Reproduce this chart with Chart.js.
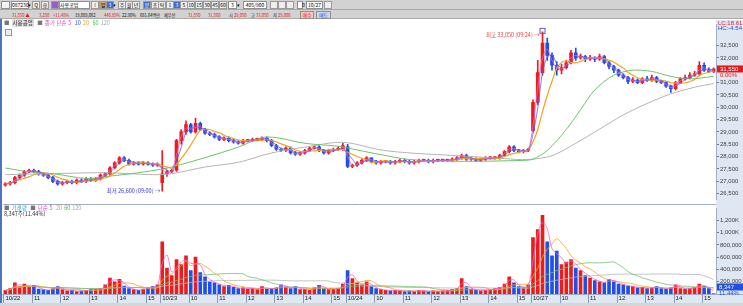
<!DOCTYPE html>
<html lang="ko">
<head>
<meta charset="utf-8">
<script src="https://cdn.jsdelivr.net/npm/chart.js@4.4.1/dist/chart.umd.min.js"></script>
<style>
body { margin: 0; width: 743px; height: 306px; overflow: hidden; background: #fff; font-family: "Noto Sans CJK KR", "Liberation Sans", sans-serif; position: relative; }
.row1 { position: absolute; left: 0; top: 0; width: 743px; height: 9px; background: #d2d2d2; border-bottom: 1px solid #a9a9a9; }
.row2 { position: absolute; left: 0; top: 10px; width: 743px; height: 8px; background: #d2d2d2; border-bottom: 1px solid #a9a9a9; }
.t { position: absolute; font-size: 5px; line-height: 7px; white-space: nowrap; color: #111; }
.row2 .t { transform: scaleX(0.82); transform-origin: left center; }
.box { position: absolute; top: 1px; height: 6px; background: #fff; border: 1px solid #8f8f8f; font-size: 5px; line-height: 6px; text-align: center; white-space: nowrap; }
.btn { position: absolute; top: 1px; height: 6px; width: 6px; background: #eee; border: 1px solid #9a9a9a; font-size: 5px; line-height: 6px; text-align: center; }
.on { background: #3d6fd6; color: #fff; }
.red { color: #e8171b; }
.blue { color: #2149d8; }
canvas { position: absolute; left: 0; }
#priceChart { top: 20px; }
#volumeChart { top: 204px; }
.legend { position: absolute; font-size: 5.5px; line-height: 7px; white-space: nowrap; color: #333; }
.legend span { margin-right: 2px; }
.strip { position: absolute; left: 0; top: 19px; width: 2px; height: 284px; background: #4d74c0; }
.foot { position: absolute; left: 0; top: 303px; width: 743px; height: 3px; background: #d6d6d6; }
</style>
</head>
<body>
<div class="row1">
  <div class="box" style="left:1px;width:7px;background:#f3f3f3"></div>
  <div class="box" style="left:11px;width:16px">087230</div>
  <div class="t" style="left:28px;top:1px">▾</div>
  <div class="btn" style="left:32px">Q</div>
  <div class="btn" style="left:41px">⊕</div>
  <div class="btn" style="left:51px;background:#9c5bd3"></div>
  <div class="box" style="left:59px;width:29px;text-align:left">사용공업</div>
  <div class="btn" style="left:91px">!</div>
  <div class="btn" style="left:99px;background:#c9a46e">일</div>
  <div class="btn on" style="left:106px">3</div>
  <div class="t" style="left:113px;top:1px">▾</div>
  <div class="btn" style="left:118px">주</div>
  <div class="btn" style="left:125px">월</div>
  <div class="btn" style="left:132px">년</div>
  <div class="btn on" style="left:143px">분</div>
  <div class="btn" style="left:151px">초</div>
  <div class="btn" style="left:158px">틱</div>
  <div class="btn" style="left:166px">1</div>
  <div class="btn on" style="left:173px">3</div>
  <div class="btn" style="left:180px">5</div>
  <div class="btn" style="left:187px">10</div>
  <div class="btn" style="left:195px">15</div>
  <div class="btn" style="left:203px">30</div>
  <div class="btn" style="left:211px">45</div>
  <div class="btn" style="left:219px">60</div>
  <div class="box" style="left:228px;width:7px">3</div>
  <div class="t" style="left:237px;top:1px">▾</div>
  <div class="box" style="left:243px;width:22px">405/900</div>
  <div class="btn" style="left:270px"></div>
  <div class="btn" style="left:278px"></div>
  <div class="btn" style="left:286px"></div>
  <div class="box" style="left:297px;width:4px"></div>
  <div class="t" style="left:302px;top:1px">0</div>
  <div class="box" style="left:306px;width:15px">10/27</div>
  <div class="btn" style="left:324px"></div>
</div>
<div class="row2">
  <div class="t red" style="left:12px;top:1px">31,550 ▲</div>
  <div class="t red" style="left:39px;top:1px">3,250</div>
  <div class="t red" style="left:53px;top:1px">+11.48%</div>
  <div class="t" style="left:75px;top:1px">19,089,062</div>
  <div class="t red" style="left:104px;top:1px">440.89%</div>
  <div class="t" style="left:122px;top:1px">22.90%</div>
  <div class="t" style="left:140px;top:1px">681.64백만</div>
  <div class="t" style="left:164px;top:1px">체우선</div>
  <div class="t red" style="left:188px;top:1px">31,550</div>
  <div class="t red" style="left:208px;top:1px">31,500</div>
  <div class="t" style="left:229px;top:1px">시 <span class="red">29,050</span></div>
  <div class="t" style="left:251px;top:1px">고 <span class="red">33,050</span></div>
  <div class="t" style="left:273px;top:1px">저 <span class="red">29,000</span></div>
  <div class="box red" style="left:300px;width:12px;background:#f4c6c6">매수</div>
  <div class="box blue" style="left:316px;width:13px;background:#c8d8f4">매도</div>
</div>

<canvas id="priceChart" width="743" height="184"></canvas>
<canvas id="volumeChart" width="743" height="99"></canvas>
<div class="strip"></div>
<div class="foot"></div>

<div class="legend" style="left:4px;top:20px">
  <span style="color:#777">■</span><span style="background:#e2e2e2;color:#222;padding:0 1px">사용공업</span>
  <span style="color:#777">■</span><span style="color:#e040c0">종가 단순 5</span>
  <span style="color:#3a5cf0">10</span><span style="color:#f0a020">20</span>
  <span style="color:#4cbf4c">60</span><span style="color:#a8a8a8">120</span>
</div>
<div style="position:absolute;left:5px;top:29px;width:5px;height:5px;border:1px solid #999;background:#eee"></div>
<div class="legend" style="left:4px;top:205px">
  <span style="color:#777">■</span><span style="color:#2aa6c4">거래량</span>
  <span style="color:#777">■</span><span style="color:#e040c0">단순 5</span>
  <span style="color:#f0a020">20</span><span style="color:#4cbf4c">60</span><span style="color:#a8a8a8">120</span>
</div>
<div class="legend" style="left:4px;top:211px">8,347주(11.44%)</div>

<script>
// 10-minute bars, 10/22 from 10:00, then three full sessions
const days = ['10/22', '10/23', '10/24', '10/27'];
const dayStart = ['10:00', '09:00', '09:00', '09:00'];

const opens = [
  26850, 26900, 26950, 27150, 27250, 27400, 27450, 27400, 27300, 27250,
  27150, 27000, 26900, 26950, 27000, 26950, 27050, 27000, 27100, 27050,
  27100, 27250, 27300, 27550, 27750, 27950, 27850, 27700, 27750, 27700,
  27750, 27700, 27650,
  26950, 27300, 27400, 27450, 28650, 29000, 29300, 29000, 29350, 29100,
  28950, 28900, 28800, 28700, 28750, 28650, 28600, 28550, 28650, 28650,
  28700, 28700, 28750, 28650, 28450, 28300, 28250, 28350, 28150, 28100,
  28150, 28250, 28350, 28400, 28250, 28150, 28250, 28300, 28300,
  28400, 27600, 27650, 27750, 27850, 27950, 27800, 27750, 27800, 27800,
  27750, 27800, 27850, 27800, 27750, 27800, 27850, 27850, 27800, 27850,
  27850, 27850, 27850, 27900, 27950, 28050, 27900, 27900, 27850, 27900,
  27950, 27950, 27950, 28050, 28200, 28400, 28250, 28200, 28250,
  29050, 30200, 31400, 32600, 32100, 31700, 31500, 31600, 31800, 32200,
  32000, 32050, 31950, 32000, 31950, 32050, 31800, 31650, 31500, 31300,
  31200, 31050, 31100, 31000, 31150, 31100, 31200, 31050, 31000, 30850,
  30750, 31000, 31150, 31200, 31300, 31350, 31700, 31500, 31450
];
const highs = [
  26950, 27000, 27200, 27300, 27450, 27500, 27500, 27450, 27350, 27300,
  27200, 27050, 27000, 27050, 27050, 27100, 27100, 27150, 27150, 27150,
  27300, 27350, 27600, 27800, 28000, 28000, 27900, 27800, 27800, 27800,
  27800, 27750, 27750,
  28250, 27450, 27500, 28700, 29100, 29450, 29350, 29550, 29400, 29150,
  29000, 28950, 28850, 28800, 28800, 28700, 28650, 28700, 28700, 28750,
  28750, 28800, 28800, 28700, 28500, 28350, 28400, 28400, 28200, 28200,
  28300, 28400, 28450, 28450, 28300, 28300, 28350, 28400, 28550,
  28500, 27700, 27800, 27900, 28000, 27950, 27850, 27850, 27850, 27850,
  27850, 27900, 27900, 27850, 27850, 27900, 27900, 27900, 27900, 27900,
  27900, 27900, 27950, 28000, 28100, 28100, 27950, 27950, 27950, 28000,
  28000, 28000, 28100, 28250, 28450, 28450, 28300, 28300, 28350,
  30300, 31900, 33050, 32800, 32200, 31850, 31750, 31900, 32300, 32400,
  32150, 32100, 32100, 32050, 32150, 32100, 31850, 31700, 31550, 31350,
  31250, 31200, 31150, 31200, 31250, 31300, 31250, 31100, 31050, 30900,
  31050, 31200, 31300, 31400, 31450, 31850, 31800, 31600, 31600
];
const lows = [
  26800, 26850, 26900, 27100, 27200, 27350, 27350, 27250, 27200, 27100,
  26950, 26850, 26850, 26900, 26900, 26900, 26950, 26950, 27000, 27000,
  27050, 27200, 27250, 27500, 27700, 27800, 27650, 27650, 27650, 27650,
  27650, 27600, 27600,
  26600, 27200, 27350, 27400, 28500, 28900, 28950, 28950, 29050, 28900,
  28850, 28750, 28650, 28650, 28600, 28550, 28500, 28500, 28600, 28600,
  28650, 28650, 28600, 28400, 28250, 28200, 28200, 28100, 28050, 28050,
  28100, 28200, 28300, 28200, 28100, 28100, 28200, 28250, 28250,
  27550, 27550, 27600, 27700, 27800, 27750, 27700, 27700, 27750, 27700,
  27700, 27750, 27750, 27700, 27700, 27750, 27800, 27750, 27750, 27800,
  27800, 27800, 27800, 27850, 27900, 27850, 27850, 27800, 27800, 27850,
  27900, 27900, 27900, 28000, 28150, 28200, 28150, 28150, 28200,
  29000, 30100, 31300, 31900, 31500, 31300, 31350, 31550, 31750, 31900,
  31950, 31850, 31900, 31850, 31900, 31750, 31550, 31400, 31250, 31150,
  30950, 31000, 30950, 30950, 31050, 31050, 31000, 30950, 30800, 30600,
  30700, 30950, 31100, 31150, 31250, 31300, 31450, 31400, 31400
];
const closes = [
  26900, 26950, 27150, 27250, 27400, 27450, 27400, 27300, 27250, 27150,
  27000, 26900, 26950, 27000, 26950, 27050, 27000, 27100, 27050, 27100,
  27250, 27300, 27550, 27750, 27950, 27850, 27700, 27750, 27700, 27750,
  27700, 27650, 27700,
  27300, 27400, 27450, 28650, 29000, 29300, 29000, 29350, 29100, 28950,
  28900, 28800, 28700, 28750, 28650, 28600, 28550, 28650, 28650, 28700,
  28700, 28750, 28650, 28450, 28300, 28250, 28350, 28150, 28100, 28150,
  28250, 28350, 28400, 28250, 28150, 28250, 28300, 28300, 28450,
  27600, 27650, 27750, 27850, 27950, 27800, 27750, 27800, 27800, 27750,
  27800, 27850, 27800, 27750, 27800, 27850, 27850, 27800, 27850, 27850,
  27850, 27850, 27900, 27950, 28050, 27900, 27900, 27850, 27900, 27950,
  27950, 27950, 28050, 28200, 28400, 28250, 28200, 28250, 28300,
  30200, 31400, 32600, 32100, 31700, 31500, 31600, 31800, 32200, 32000,
  32050, 31950, 32000, 31950, 32050, 31800, 31650, 31500, 31300, 31200,
  31050, 31100, 31000, 31150, 31100, 31200, 31050, 31000, 30850, 30750,
  31000, 31150, 31200, 31300, 31350, 31700, 31500, 31450, 31550
];
const volumes = [
  60000, 90000, 180000, 120000, 160000, 110000, 140000, 80000, 70000, 60000,
  90000, 120000, 70000, 50000, 60000, 40000, 50000, 60000, 70000, 80000,
  90000, 150000, 260000, 200000, 240000, 130000, 90000, 70000, 60000, 80000,
  100000, 120000, 150000,
  850000, 420000, 300000, 560000, 480000, 620000, 380000, 600000, 350000, 280000,
  200000, 180000, 150000, 120000, 140000, 110000, 90000, 100000, 80000, 90000,
  70000, 120000, 80000, 90000, 100000, 150000, 110000, 90000, 120000, 70000,
  80000, 60000, 100000, 140000, 90000, 70000, 80000, 90000, 160000,
  380000, 250000, 180000, 150000, 200000, 120000, 90000, 70000, 60000, 50000,
  60000, 50000, 40000, 50000, 40000, 60000, 50000, 40000, 50000, 40000,
  50000, 60000, 70000, 90000, 250000, 120000, 80000, 60000, 50000, 60000,
  70000, 90000, 110000, 160000, 280000, 180000, 120000, 100000, 150000,
  920000, 1050000, 1280000, 850000, 620000, 700000, 480000, 520000, 560000, 420000,
  380000, 300000, 260000, 220000, 200000, 180000, 240000, 200000, 160000, 150000,
  130000, 120000, 100000, 110000, 90000, 100000, 120000, 90000, 80000, 100000,
  150000, 90000, 80000, 90000, 110000, 160000, 120000, 90000, 8347
];

// long averages as [bar index, price]
const ma60Points = [
  [0, 27540], [5, 27385], [10, 27310], [17, 27115], [21, 27190], [28, 27350],
  [33, 27500], [35, 27580], [42, 27960], [49, 28385], [54, 28770], [57, 28770],
  [63, 28540], [70, 28420], [74, 28270], [79, 28080], [85, 27885], [95, 27810],
  [109, 27850], [111, 27900], [114, 28250], [118, 29100], [121, 29900], [124, 30700],
  [128, 31300], [132, 31500], [136, 31450], [140, 31250], [144, 31150], [149, 31250]
];
const ma120Points = [
  [0, 27270], [10, 27310], [21, 27350], [31, 27270], [35, 27310], [42, 27580],
  [49, 27770], [56, 28150], [63, 28385], [71, 28580], [79, 28270], [85, 28150],
  [95, 28040], [105, 27920], [110, 27880], [115, 28040], [120, 28540], [125, 29115],
  [130, 29690], [135, 30150], [140, 30540], [145, 30810], [149, 30960]
];

const priceTicks = [26500, 27000, 27500, 28000, 28500, 29000, 29500, 30000, 30500, 31000, 31500, 32000, 32500];
const volTicks = [200000, 400000, 600000, 800000, 1000000, 1200000];
const volTickLabels = ['200,000', '400,000', '600,000', '800,000', '1,000K', '1,200K'];
const priceMaWindows = [2, 3, 6];      // 5, 10, 20 of the 3-minute chart
const volMaWindows = [2, 6, 18, 36];   // 5, 20, 60, 120
const highTime = '09:24';
const lowTime = '09:00';

// build the bar labels
const categories = [];
days.forEach((d, k) => {
  let [h, m] = dayStart[k].split(':').map(Number);
  while (h * 60 + m <= 15 * 60 + 20) {
    categories.push(d + ' ' + String(h).padStart(2, '0') + ':' + String(m).padStart(2, '0'));
    m += 10;
    if (m >= 60) { m -= 60; h++; }
  }
});

function movingAvg(values, n) {
  return values.map((v, i) => {
    const part = values.slice(Math.max(0, i - n + 1), i + 1);
    return part.reduce((s, x) => s + x, 0) / part.length;
  });
}
function sparse(points) {
  const out = new Array(categories.length).fill(null);
  points.forEach(p => { out[p[0]] = p[1]; });
  return out;
}
const fmt = v => v.toLocaleString('en-US');

const UP = '#ec1c1c', DOWN = '#1f4fe6';
const candleColors = closes.map((c, i) => c >= opens[i] ? UP : DOWN);
const axisFont = { family: 'Liberation Sans', size: 6 };

function maLine(data, color, width) {
  return { type: 'line', data: data, borderColor: color, borderWidth: width, pointRadius: 0,
    tension: 0.3, spanGaps: true, order: 0 };
}

// light blue axis strips
const axisBg = {
  id: 'axisBg',
  beforeDraw(chart) {
    const { ctx, chartArea: a, width, height } = chart;
    ctx.save();
    ctx.fillStyle = '#dfe7f2';
    ctx.fillRect(a.right, 0, width - a.right, height);
    if (chart.canvas.id === 'volumeChart') {
      ctx.fillRect(0, a.bottom, width, height - a.bottom);
      ctx.strokeStyle = '#9fb0c6';
      ctx.beginPath();
      ctx.moveTo(0, a.bottom + 0.5); ctx.lineTo(width, a.bottom + 0.5);
      ctx.moveTo(a.left, 0.5); ctx.lineTo(a.right, 0.5);
      ctx.stroke();
    }
    ctx.restore();
  }
};

const priceMarks = {
  id: 'priceMarks',
  afterDraw(chart) {
    const { ctx, chartArea: a, scales: { x, y } } = chart;
    ctx.save();
    ctx.textBaseline = 'middle';
    // high / low notes
    const hi = highs.indexOf(Math.max(...highs));
    const lo = lows.indexOf(Math.min(...lows));
    ctx.font = '5.5px "Noto Sans CJK KR"';
    ctx.textAlign = 'right';
    let px = x.getPixelForValue(hi), py = y.getPixelForValue(highs[hi]);
    ctx.fillStyle = '#f03c3c';
    ctx.fillText('최고 ' + fmt(highs[hi]) + ' (' + highTime + ') →', px - 3, py + 3);
    ctx.strokeStyle = '#5a5ae0';
    ctx.strokeRect(px - 2.5, py - 3.5, 5, 5);
    px = x.getPixelForValue(lo); py = y.getPixelForValue(lows[lo]);
    ctx.fillStyle = '#3a3ae0';
    ctx.fillText('최저 ' + fmt(lows[lo]) + ' (' + lowTime + ') →', px - 2, py);
    // LC / HC
    ctx.textAlign = 'left';
    ctx.font = '6px "Liberation Sans"';
    ctx.fillStyle = '#e8171b';
    ctx.fillText('LC:18.61', a.right + 2, 3);
    ctx.fillStyle = '#2149d8';
    ctx.fillText('HC:-4.54', a.right + 2, 8);
    // current price tag
    const last = closes[closes.length - 1];
    const ly = y.getPixelForValue(last);
    ctx.fillStyle = '#e8171b';
    ctx.fillRect(a.right + 1, ly - 3.5, 26, 7);
    ctx.fillStyle = '#fff';
    ctx.fillText(fmt(last), a.right + 4, ly);
    ctx.fillStyle = '#e8171b';
    ctx.fillText('0.00%', a.right + 4, ly + 6.5);
    ctx.restore();
  }
};

const volumeMarks = {
  id: 'volumeMarks',
  afterDraw(chart) {
    const { ctx, chartArea: a, scales: { x, y } } = chart;
    ctx.save();
    // day / hour separators in the time band
    ctx.strokeStyle = '#8d9bb0';
    ctx.beginPath();
    x.ticks.forEach((t, i) => {
      if (!tickText(i)) return;
      const px = Math.round(x.getPixelForTick(i)) - 1.5;
      ctx.moveTo(px, a.bottom); ctx.lineTo(px, chart.height);
    });
    ctx.stroke();
    // last volume tag
    const last = volumes[volumes.length - 1];
    const vy = Math.min(y.getPixelForValue(last), a.bottom - 7);
    ctx.font = '6px "Liberation Sans"';
    ctx.textBaseline = 'middle';
    ctx.fillStyle = '#1f4fe6';
    ctx.fillRect(a.right + 1, vy - 3.5, 26, 7);
    ctx.fillStyle = '#fff';
    ctx.fillText(fmt(last), a.right + 3, vy);
    ctx.fillStyle = '#1f4fe6';
    ctx.fillText('11.44%', a.right + 3, vy + 6);
    ctx.restore();
  }
};

function tickText(i) {
  const [d, t] = categories[i].split(' ');
  if (i === 0 || t === '09:00') return d;
  if (t.endsWith(':00')) return String(Number(t.slice(0, 2)));
  return '';
}

const rightAxis = {
  position: 'right',
  afterFit(s) { s.width = 27; },
  grid: { drawOnChartArea: false, tickLength: 3, color: '#6b7a90' },
  border: { color: '#9fb0c6' },
  ticks: { font: axisFont, color: '#444', padding: 1 }
};

new Chart(document.getElementById('priceChart'), {
  type: 'bar',
  data: {
    labels: categories,
    datasets: [
      maLine(movingAvg(closes, priceMaWindows[0]), '#f060d0', 0.8),
      maLine(movingAvg(closes, priceMaWindows[1]), '#4a66f0', 0.8),
      maLine(movingAvg(closes, priceMaWindows[2]), '#f2a31c', 1.2),
      maLine(sparse(ma60Points), '#6cc46c', 1),
      maLine(sparse(ma120Points), '#b4b4b4', 1),
      { data: opens.map((o, i) => [o, closes[i]]), backgroundColor: candleColors,
        barThickness: 3, minBarLength: 1, grouped: false, order: 1 },
      { data: lows.map((l, i) => [l, highs[i]]), backgroundColor: candleColors,
        barThickness: 1, grouped: false, order: 2 }
    ]
  },
  options: {
    responsive: false,
    animation: false,
    layout: { padding: { left: 3 } },
    plugins: { legend: { display: false }, tooltip: { enabled: false } },
    scales: {
      x: { display: false, offset: true },
      y: Object.assign({}, rightAxis, {
        min: 26269, max: 33346,
        afterBuildTicks(s) { s.ticks = priceTicks.map(v => ({ value: v })); },
        ticks: Object.assign({}, rightAxis.ticks, { callback: v => fmt(v) })
      })
    }
  },
  plugins: [axisBg, priceMarks]
});

const volColors = candleColors;
new Chart(document.getElementById('volumeChart'), {
  type: 'bar',
  data: {
    labels: categories,
    datasets: [
      maLine(movingAvg(volumes, volMaWindows[0]), '#f060d0', 0.8),
      maLine(movingAvg(volumes, volMaWindows[1]), '#f2a31c', 0.8),
      maLine(movingAvg(volumes, volMaWindows[2]), '#6cc46c', 0.8),
      maLine(movingAvg(volumes, volMaWindows[3]), '#b4b4b4', 0.8),
      { data: volumes, backgroundColor: volColors, barThickness: 3, order: 1 }
    ]
  },
  options: {
    responsive: false,
    animation: false,
    layout: { padding: { left: 3, top: 1 } },
    plugins: { legend: { display: false }, tooltip: { enabled: false } },
    scales: {
      x: {
        offset: true,
        afterFit(s) { s.height = 9; },
        grid: { display: false, drawTicks: false },
        border: { display: false },
        ticks: { autoSkip: false, maxRotation: 0, minRotation: 0, align: 'start', padding: 1,
          font: axisFont, color: '#222', callback: (v, i) => tickText(i) }
      },
      y: Object.assign({}, rightAxis, {
        min: 0, max: 1390000,
        afterBuildTicks(s) { s.ticks = volTicks.map(v => ({ value: v })); },
        ticks: Object.assign({}, rightAxis.ticks, { callback: v => volTickLabels[volTicks.indexOf(v)] })
      })
    }
  },
  plugins: [axisBg, volumeMarks]
});
</script>
</body>
</html>
